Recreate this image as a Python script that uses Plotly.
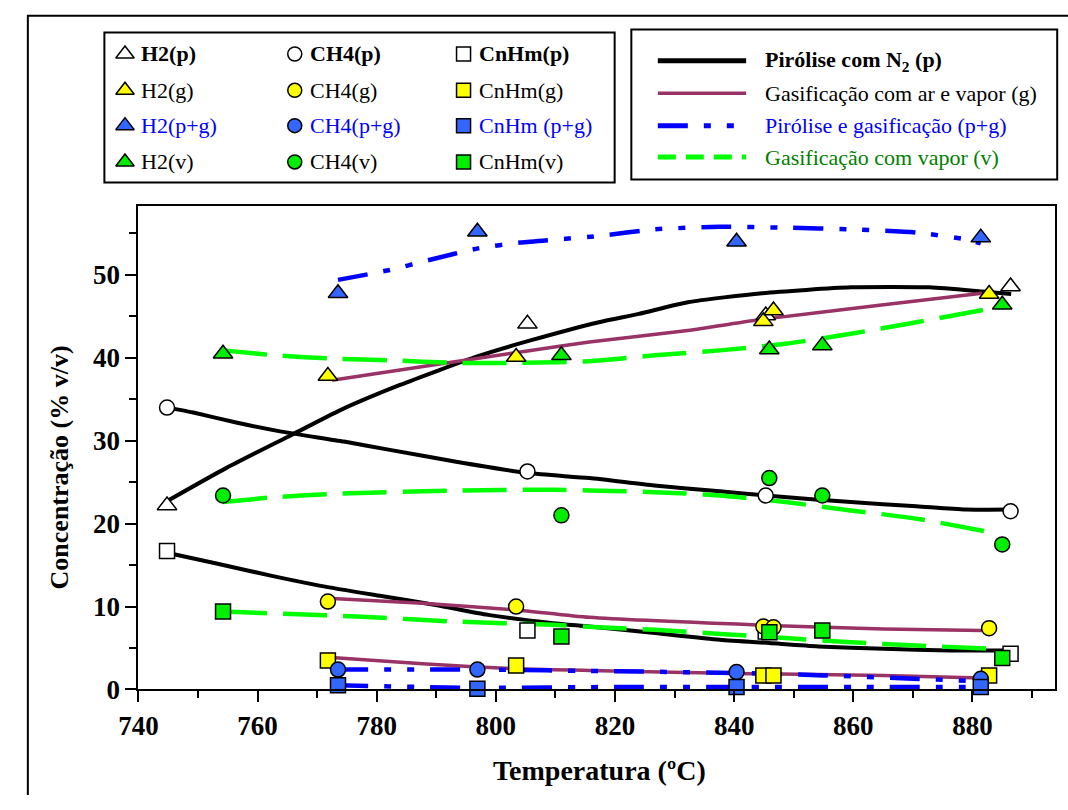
import plotly.graph_objects as go

# ---- pontos experimentais (temperatura ºC, concentração % v/v) ----
T_p = [744.8, 805.3, 845.3, 886.4]
H2_p = [22.2, 44.1, 45.1, 48.6]
CH4_p = [34.0, 26.3, 23.4, 21.5]
CnHm_p = [16.7, 7.1, 7.0, 4.3]

T_g = [771.8, 803.4, 844.9, 846.6, 882.8]
H2_g = [37.8, 40.1, 44.4, 45.7, 47.7]
CH4_g = [10.6, 10.0, 7.6, 7.5, 7.4]
CnHm_g = [3.5, 2.9, 1.7, 1.7, 1.7]

T_pg = [773.5, 796.9, 840.4, 881.4]
H2_pg = [47.8, 55.2, 54.0, 54.5]
CH4_pg = [2.4, 2.4, 2.1, 1.3]
CnHm_pg = [0.5, 0.1, 0.3, 0.3]

T_v = [754.2, 811.0, 845.9, 854.8, 885.0]
H2_v = [40.5, 40.3, 41.0, 41.5, 46.4]
CH4_v = [23.4, 21.0, 25.5, 23.4, 17.5]
CnHm_v = [9.4, 6.4, 6.9, 7.1, 3.8]

# ---- linhas de tendência ----
tT_H2_p = [745, 754.7, 765.7, 773.9, 783.8, 797, 805.8, 817.3, 824, 832.2, 844.7, 859.6, 872.8, 881.6, 886.5]
tC_H2_p = [22.8, 26.7, 30.7, 33.7, 36.7, 40.2, 42.1, 44.3, 45.3, 46.7, 47.8, 48.5, 48.5, 48.0, 47.7]
tT_CH4_p = [745, 749.2, 756.4, 764, 774.5, 782.2, 793.1, 805.3, 815.7, 826.6, 837.6, 845.3, 859.6, 870.6, 878.8, 886.5]
tC_CH4_p = [34.0, 33.4, 32.2, 31.1, 29.9, 28.9, 27.5, 26.1, 25.5, 24.6, 23.9, 23.4, 22.6, 22.1, 21.7, 21.7]
tT_CnHm_p = [744.8, 753.1, 762.4, 770.6, 780.5, 789.9, 798.7, 809.6, 815.7, 826.7, 837.6, 845.9, 854.1, 865.1, 876.1, 886.5]
tC_CnHm_p = [16.5, 15.2, 13.7, 12.5, 11.3, 10.2, 9.0, 8.0, 7.6, 6.8, 6.0, 5.6, 5.2, 4.9, 4.7, 4.7]

tT_H2_g = [772.5, 790, 805, 815.7, 832.2, 845.3, 865.1, 881.6]
tC_H2_g = [37.3, 39.2, 40.8, 41.9, 43.3, 44.7, 46.4, 47.8]
tT_CH4_g = [771.8, 787.7, 803.4, 815.7, 843.1, 865.1, 881.6]
tC_CH4_g = [11.0, 10.4, 9.6, 8.7, 7.8, 7.3, 7.1]
tT_CnHm_g = [771.8, 787.7, 803.4, 815.7, 843.1, 865.1, 881.6]
tC_CnHm_g = [3.9, 3.1, 2.5, 2.3, 1.9, 1.7, 1.4]

tT_H2_pg = [773.5, 782.2, 788.8, 797, 804.1, 817.3, 826.7, 837.6, 848.6, 859.6, 870.6, 878.8, 881.4]
tC_H2_pg = [49.4, 50.6, 51.8, 53.2, 53.9, 54.7, 55.5, 55.8, 55.7, 55.5, 55.1, 54.3, 53.8]
tT_CH4_pg = [773.5, 797, 820, 840, 855, 870, 881.4]
tC_CH4_pg = [2.4, 2.4, 2.2, 2.0, 1.7, 1.3, 1.0]
tT_CnHm_pg = [773.5, 797, 820, 840, 860, 881.4]
tC_CnHm_pg = [0.5, 0.2, 0.3, 0.3, 0.3, 0.3]

tT_H2_v = [754.2, 763, 772.8, 782.2, 793.1, 804.1, 815.7, 826.7, 837.6, 848.6, 859.6, 870.6, 884.3]
tC_H2_v = [40.9, 40.3, 39.9, 39.7, 39.4, 39.4, 39.6, 40.3, 40.9, 41.7, 42.9, 44.3, 46.1]
tT_CH4_v = [754.2, 763, 772.8, 793.1, 809.6, 815.7, 826.7, 837.6, 848.6, 859.6, 870.6, 884.3]
tC_CH4_v = [22.6, 23.2, 23.6, 24.0, 24.1, 24.0, 23.8, 23.4, 22.6, 21.6, 20.6, 18.8]
tT_CnHm_v = [754.2, 765.7, 776.7, 793.1, 809.6, 817.3, 826.7, 837.6, 848.6, 859.6, 870.6, 884.3]
tC_CnHm_v = [9.4, 9.1, 8.8, 8.2, 7.8, 7.5, 7.2, 6.7, 6.2, 5.7, 5.3, 4.9]

x_ticks = [740, 760, 780, 800, 820, 840, 860, 880]
y_ticks = [0, 10, 20, 30, 40, 50]

FONT = "Liberation Serif, Times New Roman, serif"
W, H = 1068, 810
BLACK = "#000000"
PURPLE = "#993366"
BLUE = "#0000FF"
GREEN_L = "#00FF00"
FILL = {"p": "#FFFFFF", "g": "#FFFF00", "pg": "#3366FF", "v": "#00EE00"}
SYM = {"H2": "triangle-up", "CH4": "circle", "CnHm": "square"}
MSIZE = {"H2": 17, "CH4": 15, "CnHm": 15}
DASH_PG = "30px,16px,7px,16px,7px,16px"

fig = go.Figure()

# linhas de tendência
linhas = [
    (tT_H2_p, tC_H2_p, BLACK, 4, "solid"),
    (tT_CH4_p, tC_CH4_p, BLACK, 4, "solid"),
    (tT_CnHm_p, tC_CnHm_p, BLACK, 4, "solid"),
    (tT_H2_g, tC_H2_g, PURPLE, 3.5, "solid"),
    (tT_CH4_g, tC_CH4_g, PURPLE, 3.5, "solid"),
    (tT_CnHm_g, tC_CnHm_g, PURPLE, 3.5, "solid"),
    (tT_H2_pg, tC_H2_pg, BLUE, 4.5, DASH_PG),
    (tT_CH4_pg, tC_CH4_pg, BLUE, 4.5, DASH_PG),
    (tT_CnHm_pg, tC_CnHm_pg, BLUE, 4.5, DASH_PG),
    (tT_H2_v, tC_H2_v, GREEN_L, 4.5, "44px,16px"),
    (tT_CH4_v, tC_CH4_v, GREEN_L, 4.5, "44px,16px"),
    (tT_CnHm_v, tC_CnHm_v, GREEN_L, 4.5, "44px,16px"),
]
for tx, ty, cor, lw, dash in linhas:
    fig.add_trace(go.Scatter(x=tx, y=ty, mode="lines",
                             line=dict(color=cor, width=lw, dash=dash, shape="spline", smoothing=0.6),
                             showlegend=False, hoverinfo="skip"))

# pontos
series = [
    ("p", T_p, {"H2": H2_p, "CH4": CH4_p, "CnHm": CnHm_p}),
    ("g", T_g, {"H2": H2_g, "CH4": CH4_g, "CnHm": CnHm_g}),
    ("pg", T_pg, {"H2": H2_pg, "CH4": CH4_pg, "CnHm": CnHm_pg}),
    ("v", T_v, {"H2": H2_v, "CH4": CH4_v, "CnHm": CnHm_v}),
]
for cond, tx, dados in series:
    for esp in ["H2", "CH4", "CnHm"]:
        fig.add_trace(go.Scatter(x=tx, y=dados[esp], mode="markers", cliponaxis=False,
                                 marker=dict(symbol=SYM[esp], size=MSIZE[esp], color=FILL[cond],
                                             line=dict(color=BLACK, width=1.5)),
                                 showlegend=False, name=f"{esp}({cond})"))

# ---- legendas desenhadas à mão (coordenadas em pixels no eixo x2/y2) ----
leg_rows = ["p", "g", "pg", "v"]
leg_text = {
    "p": ["<b>H2(p)</b>", "<b>CH4(p)</b>", "<b>CnHm(p)</b>"],
    "g": ["H2(g)", "CH4(g)", "CnHm(g)"],
    "pg": ["H2(p+g)", "CH4(p+g)", "CnHm (p+g)"],
    "v": ["H2(v)", "CH4(v)", "CnHm(v)"],
}
leg_color = {"p": BLACK, "g": BLACK, "pg": BLUE, "v": BLACK}
row_y = [55, 92, 128, 165]
col_x = [107, 280, 452]

for i, cond in enumerate(leg_rows):
    for j, esp in enumerate(["H2", "CH4", "CnHm"]):
        fig.add_trace(go.Scatter(x=[col_x[j]], y=[row_y[i]], xaxis="x2", yaxis="y2", mode="markers",
                                 marker=dict(symbol=SYM[esp], size=MSIZE[esp] - 1, color=FILL[cond],
                                             line=dict(color=BLACK, width=1.5)),
                                 showlegend=False, hoverinfo="skip"))
        fig.add_annotation(x=col_x[j] + 14, y=row_y[i], xref="x2", yref="y2", text=leg_text[cond][j],
                           showarrow=False, xanchor="left", yanchor="middle",
                           font=dict(family=FONT, size=22, color=leg_color[cond]))

lin_rows = [62, 95, 128, 160]
lin_style = [(BLACK, 5, "solid"), (PURPLE, 3.5, "solid"), (BLUE, 5, DASH_PG), (GREEN_L, 5, "18px,10px")]
lin_text = ["<b>Pirólise com N<sub>2</sub> (p)</b>", "Gasificação com ar e vapor (g)",
            "Pirólise e gasificação (p+g)", "Gasificação com vapor (v)"]
lin_color = [BLACK, BLACK, BLUE, "#008000"]
for k in range(4):
    cor, lw, dash = lin_style[k]
    fig.add_shape(type="line", xref="x2", yref="y2", x0=650, x1=740, y0=lin_rows[k], y1=lin_rows[k],
                  line=dict(color=cor, width=lw, dash=dash))
    fig.add_annotation(x=757, y=lin_rows[k], xref="x2", yref="y2", text=lin_text[k], showarrow=False,
                       xanchor="left", yanchor="middle", font=dict(family=FONT, size=22, color=lin_color[k]))

# caixas
fig.add_shape(type="rect", xref="x2", yref="y2", x0=8, y0=16, x1=1090, y1=830,
              line=dict(color=BLACK, width=2), layer="below")
fig.add_shape(type="rect", xref="x2", yref="y2", x0=86, y0=33, x1=606, y1=186, line=dict(color=BLACK, width=2))
fig.add_shape(type="rect", xref="x2", yref="y2", x0=623, y0=30, x1=1057, y1=183, line=dict(color=BLACK, width=2))

# títulos dos eixos
fig.add_annotation(x=591, y=785, xref="x2", yref="y2", text="<b>Temperatura (ºC)</b>", showarrow=False,
                   font=dict(family=FONT, size=28, color=BLACK))
fig.add_annotation(x=40, y=476, xref="x2", yref="y2", text="<b>Concentração (% v/v)</b>", showarrow=False,
                   textangle=-90, font=dict(family=FONT, size=26, color=BLACK))

x0p, x1p, ytop, ybot = 120.7, 1055, 210, 702.5
eixo = dict(ticks="outside", ticklen=11, tickwidth=2, tickcolor=BLACK, linecolor=BLACK, linewidth=2,
            mirror=True, showgrid=False, zeroline=False,
            tickfont=dict(family=FONT, size=27, color=BLACK, weight="bold"))
fig.update_layout(
    width=W, height=H, autosize=False,
    margin=dict(l=0, r=0, t=0, b=0),
    paper_bgcolor="white", plot_bgcolor="rgba(0,0,0,0)",
    showlegend=False,
    xaxis=dict(domain=[x0p / W, x1p / W], range=[740, 893.9], tickvals=x_ticks, anchor="y",
               minor=dict(dtick=10, tick0=740, ticks="outside", ticklen=7, tickwidth=2, tickcolor=BLACK), **eixo),
    yaxis=dict(domain=[1 - ybot / H, 1 - ytop / H], range=[0, 58.3], tickvals=y_ticks, anchor="x",
               minor=dict(dtick=5, tick0=0, ticks="outside", ticklen=7, tickwidth=2, tickcolor=BLACK), **eixo),
    xaxis2=dict(domain=[0, 1], range=[0, W], visible=False, anchor="y2", fixedrange=True),
    yaxis2=dict(domain=[0, 1], range=[H, 0], visible=False, anchor="x2", fixedrange=True),
)

fig.write_html("out.html", config={"displayModeBar": False}, post_script="document.body.style.margin='0';")
